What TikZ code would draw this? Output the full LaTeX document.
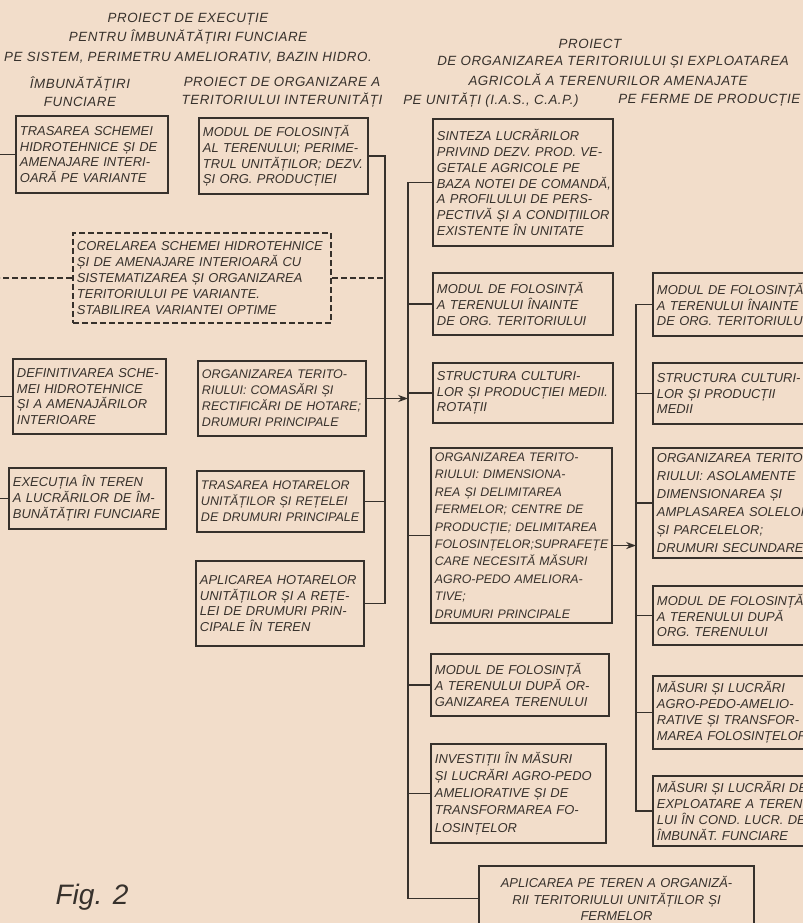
\documentclass[tikz,border=0pt]{standalone}
\usepackage{fontspec}
\setmainfont{Liberation Sans}
\newfontfamily\headfamily{Liberation Sans}[LetterSpace=4.0]
\usepackage{tikz}
\usetikzlibrary{arrows.meta}
\definecolor{paper}{RGB}{242,221,202}
\definecolor{ink}{RGB}{55,49,44}
\newcommand{\letterfont}{\fontsize{9.2}{11.3}\selectfont\itshape}
\newcommand{\headfont}{\headfamily\fontsize{9.5}{12.8}\selectfont\itshape}
\tikzset{
  box/.style={draw=ink, line width=1.4pt, text=ink, anchor=north west, align=left,
    inner xsep=0.1cm, inner ysep=0pt, font=\letterfont,
    execute at begin node={\hyphenpenalty=10000 \exhyphenpenalty=10000 }},
  head/.style={text=ink, inner sep=0pt, font=\headfont},
  link/.style={draw=ink, line width=1.3pt},
  dashlink/.style={link, dashed, dash pattern=on 4.2pt off 2.2pt},
}

\begin{document}
\begin{tikzpicture}[x=0.025cm,y=-0.025cm]
\useasboundingbox (0,0) rectangle (803,923);
\fill[paper] (0,0) rectangle (803,923);
\clip (0,0) rectangle (803,923);

\coordinate (lbus) at (0,0);
\coordinate (mbus) at (385,0);
\coordinate (ubus) at (408,0);
\coordinate (fbus) at (636,0);

\node[head, align=center, font=\headfont\fontsize{9.5}{13.8}\selectfont] (titlu) at (188,38)
  {PROIECT DE EXECUȚIE\\PENTRU ÎMBUNĂTĂȚIRI FUNCIARE\\PE SISTEM, PERIMETRU AMELIORATIV, BAZIN HIDRO.};
\node[head, align=center] (capimb) at (80,92) {ÎMBUNĂTĂȚIRI\\FUNCIARE};
\node[head, align=center] (capint) at (282,92) {PROIECT DE ORGANIZARE A\\TERITORIULUI INTERUNITĂȚI};
\node[head] (capproiect) at (590,44) {PROIECT};
\node[head, anchor=west] (capdeorg) at (437,62) {DE ORGANIZAREA TERITORIULUI ȘI EXPLOATAREA};
\node[head] (capagr) at (608,80) {AGRICOLĂ A TERENURILOR AMENAJATE};
\node[head, anchor=west] (capunit) at (403,100) {PE UNITĂȚI (I.A.S., C.A.P.)};
\node[head, anchor=west] (capferme) at (618,100) {PE FERME DE PRODUCȚIE};

\node[box, text width=3.6cm, minimum height=1.925cm] (trasare) at (15,115)
  {TRASAREA SCHEMEI\\HIDROTEHNICE ȘI DE\\AMENAJARE INTERI-\\OARĂ PE VARIANTE};
\node[box, text width=4.025cm, minimum height=1.9cm] (modulalt) at (198,117)
  {MODUL DE FOLOSINȚĂ\\AL TERENULUI; PERIME-\\TRUL~UNITĂȚILOR;~DEZV.\\ȘI ORG. PRODUCȚIEI};
\node[box, dashed, dash pattern=on 4.2pt off 2.2pt, text width=6.25cm, minimum height=2.25cm] (corelare) at (72,232)
  {CORELAREA SCHEMEI HIDROTEHNICE\\ȘI DE AMENAJARE INTERIOARĂ CU\\SISTEMATIZAREA ȘI ORGANIZAREA\\TERITORIULUI PE VARIANTE.\\STABILIREA VARIANTEI OPTIME};
\node[box, text width=3.625cm, minimum height=1.875cm] (definitiv) at (12,358)
  {DEFINITIVAREA~SCHE-\\MEI HIDROTEHNICE\\ȘI A AMENAJĂRILOR\\INTERIOARE};
\node[box, text width=4.0cm, minimum height=1.875cm, font=\itshape\fontsize{8.9}{11.3}\selectfont] (comasari) at (197,360)
  {ORGANIZAREA TERITO-\\RIULUI: COMASĂRI ȘI\\RECTIFICĂRI~DE~HOTARE;\\DRUMURI PRINCIPALE};
\node[box, text width=3.725cm, minimum height=1.525cm] (executie) at (8,467)
  {EXECUȚIA ÎN TEREN\\A LUCRĂRILOR DE ÎM-\\BUNĂTĂȚIRI~FUNCIARE};
\node[box, text width=3.975cm, minimum height=1.525cm, font=\itshape\fontsize{8.9}{11.3}\selectfont] (hotare) at (196,470)
  {TRASAREA HOTARELOR\\UNITĂȚILOR ȘI REȚELEI\\DE~DRUMURI~PRINCIPALE};
\node[box, text width=4.0cm, minimum height=2.125cm] (aplicare) at (195,560)
  {APLICAREA HOTARELOR\\UNITĂȚILOR ȘI A REȚE-\\LEI DE DRUMURI PRIN-\\CIPALE ÎN TEREN};

\node[box, text width=4.3cm, minimum height=3.175cm] (sinteza) at (432,118)
  {SINTEZA LUCRĂRILOR\\PRIVIND DEZV. PROD. VE-\\GETALE AGRICOLE PE\\BAZA~NOTEI~DE~COMANDĂ,\\A PROFILULUI DE PERS-\\PECTIVĂ~ȘI~A~CONDIȚIILOR\\EXISTENTE ÎN UNITATE};
\node[box, text width=4.3cm, minimum height=1.55cm] (inainte) at (432,272)
  {MODUL DE FOLOSINȚĂ\\A TERENULUI ÎNAINTE\\DE ORG. TERITORIULUI};
\node[box, text width=4.3cm, minimum height=1.5cm] (structura) at (432,362)
  {STRUCTURA CULTURI-\\LOR~ȘI~PRODUCȚIEI~MEDII.\\ROTAȚII};
\node[box, text width=4.325cm, minimum height=4.375cm, font=\itshape\fontsize{8.8}{12.4}\selectfont] (orgunit) at (430,447)
  {ORGANIZAREA TERITO-\\RIULUI: DIMENSIONA-\\REA ȘI DELIMITAREA\\FERMELOR; CENTRE DE\\PRODUCȚIE;~DELIMITAREA\\FOLOSINȚELOR;SUPRAFEȚE\\CARE NECESITĂ MĂSURI\\AGRO-PEDO AMELIORA-\\TIVE;\\DRUMURI PRINCIPALE};
\node[box, text width=4.25cm, minimum height=1.55cm] (dupa) at (430,653)
  {MODUL DE FOLOSINȚĂ\\A TERENULUI DUPĂ OR-\\GANIZAREA TERENULUI};
\node[box, text width=4.175cm, minimum height=2.475cm, font=\itshape\fontsize{9.2}{12.2}\selectfont] (investitii) at (430,743)
  {INVESTIȚII ÎN MĂSURI\\ȘI LUCRĂRI AGRO-PEDO\\AMELIORATIVE ȘI DE\\TRANSFORMAREA FO-\\LOSINȚELOR};
\node[box, align=center, text width=6.675cm, minimum height=1.625cm, font=\itshape\fontsize{9.2}{11.7}\selectfont] (aplicteren) at (478,865)
  {APLICAREA PE TEREN A ORGANIZĂ-\\RII TERITORIULUI UNITĂȚILOR ȘI\\FERMELOR};

\node[box, text width=4.3cm, minimum height=1.575cm] (finainte) at (652,272)
  {MODUL DE FOLOSINȚĂ\\A TERENULUI ÎNAINTE\\DE ORG. TERITORIULUI};
\node[box, text width=4.3cm, minimum height=1.525cm] (fstructura) at (652,362)
  {STRUCTURA CULTURI-\\LOR ȘI PRODUCȚII\\MEDII};
\node[box, text width=4.3cm, minimum height=2.75cm, font=\itshape\fontsize{9.2}{12.7}\selectfont] (forg) at (652,447)
  {ORGANIZAREA TERITO-\\RIULUI: ASOLAMENTE\\DIMENSIONAREA ȘI\\AMPLASAREA~SOLELOR\\ȘI PARCELELOR;\\DRUMURI SECUNDARE};
\node[box, text width=4.3cm, minimum height=1.475cm] (fdupa) at (652,585)
  {MODUL DE FOLOSINȚĂ\\A TERENULUI DUPĂ\\ORG. TERENULUI};
\node[box, text width=4.3cm, minimum height=1.825cm] (fmasuri) at (652,675)
  {MĂSURI ȘI LUCRĂRI\\AGRO-PEDO-AMELIO-\\RATIVE ȘI TRANSFOR-\\MAREA FOLOSINȚELOR};
\node[box, text width=4.3cm, minimum height=1.75cm] (fexploatare) at (652,775)
  {MĂSURI~ȘI~LUCRĂRI~DE\\EXPLOATARE~A~TERENU-\\LUI~ÎN~COND.~LUCR.~DE\\ÎMBUNĂT. FUNCIARE};

\node[text=ink, inner sep=0pt, font=\fontsize{20}{24}\selectfont\itshape] (fig) at (92,897) {Fig. 2};

\foreach \n in {trasare,definitiv,executie}
  \draw[link] (\n.west) -- (\n.west -| lbus);
\draw[dashlink] (corelare.west) -- (corelare.west -| lbus);

\draw[link] (modulalt.east) -| (aplicare.east -| mbus) -- (aplicare.east);
\draw[link] (hotare.east) -- (hotare.east -| mbus);
\draw[dashlink] (corelare.east) -- (corelare.east -| mbus);
\draw[link, -{Stealth[length=7pt,width=5pt]}] (comasari.east) -- (comasari.east -| ubus);

\draw[link] (sinteza.west) -| (aplicteren.west -| ubus) -- (aplicteren.west);
\foreach \n in {inainte,structura,orgunit,dupa,investitii}
  \draw[link] (\n.west) -- (\n.west -| ubus);

\draw[link] (finainte.west) -| (fexploatare.west -| fbus) -- (fexploatare.west);
\foreach \n in {fstructura,forg,fdupa,fmasuri}
  \draw[link] (\n.west) -- (\n.west -| fbus);
\draw[link, -{Stealth[length=7pt,width=5pt]}] ([yshift=-0.25cm]orgunit.east) -- ([yshift=-0.25cm]orgunit.east -| fbus);

\end{tikzpicture}
\end{document}
